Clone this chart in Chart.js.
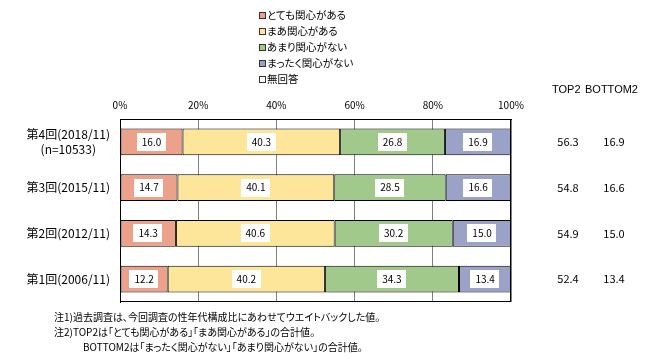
<!DOCTYPE html>
<html lang="ja">
<head>
<meta charset="utf-8">
<script src="https://cdn.jsdelivr.net/npm/chart.js@4/dist/chart.umd.min.js"></script>
<style>
  body { margin: 0; background: #fff; }
  #wrap { position: relative; width: 657px; height: 362px; font-family: "Noto Sans CJK JP", sans-serif; color: #000; }
  #chart { position: absolute; left: 0; top: 0; }
  #legend { position: absolute; left: 259px; top: 7px; font-size: 10.5px; font-feature-settings: "palt"; }
  #legend div { height: 16px; line-height: 16px; white-space: nowrap; }
  #legend span { display: inline-block; width: 5px; height: 5px; border: 1px solid #333; margin-right: 1px; vertical-align: 0px; }
  .head { position: absolute; top: 83px; font-size: 11px; font-family: "Liberation Sans", sans-serif; }
  #notes { position: absolute; left: 54px; top: 309px; font-size: 10px; line-height: 15px; font-feature-settings: "palt"; white-space: nowrap; }
</style>
</head>
<body>
<div id="wrap">
  <canvas id="chart" width="657" height="362"></canvas>
  <div id="legend"></div>
  <div class="head" style="left:552px">TOP2</div>
  <div class="head" style="left:585px">BOTTOM2</div>
  <div id="notes">
    <div>注1)過去調査は、今回調査の性年代構成比にあわせてウエイトバックした値。</div>
    <div>注2)TOP2は「とても関心がある」「まあ関心がある」の合計値。</div>
    <div style="padding-left:29px">BOTTOM2は「まったく関心がない」「あまり関心がない」の合計値。</div>
  </div>
</div>
<script>
const rounds = [["第4回(2018/11)", "(n=10533)"], "第3回(2015/11)", "第2回(2012/11)", "第1回(2006/11)"];
const seriesNames = ["とても関心がある", "まあ関心がある", "あまり関心がない", "まったく関心がない", "無回答"];
const veryInterested = [16.0, 14.7, 14.3, 12.2];
const somewhatInterested = [40.3, 40.1, 40.6, 40.2];
const notVeryInterested = [26.8, 28.5, 30.2, 34.3];
const notInterested = [16.9, 16.6, 15.0, 13.4];
const noAnswer = [0.0, 0.1, 0.0, 0.0];
const top2 = [56.3, 54.8, 54.9, 52.4];
const bottom2 = [16.9, 16.6, 15.0, 13.4];
const xTicks = [0, 20, 40, 60, 80, 100];

const colors = ["#EBA18A", "#FDE699", "#A0C98B", "#9AA2C8", "#FFFFFF"];
const values = [veryInterested, somewhatInterested, notVeryInterested, notInterested, noAnswer];

// legend (vertical list like the original)
const legendElem = document.getElementById("legend");
seriesNames.forEach((name, i) => {
  const row = document.createElement("div");
  const box = document.createElement("span");
  box.style.background = colors[i];
  row.appendChild(box);
  row.appendChild(document.createTextNode(name));
  legendElem.appendChild(row);
});

const font = "'Noto Sans CJK JP', sans-serif";

// white boxes with the value inside each segment, plus TOP2 / BOTTOM2 column
const valueLabels = {
  id: "valueLabels",
  afterDatasetsDraw(chart) {
    const ctx = chart.ctx;
    const area = chart.chartArea;
    ctx.save();
    ctx.strokeStyle = "#000";
    ctx.lineWidth = 1;
    ctx.strokeRect(area.left + 0.5, area.top + 0.5, area.right - area.left - 1, area.bottom - area.top - 1);
    ctx.font = "10px " + font;
    ctx.textAlign = "center";
    ctx.textBaseline = "middle";
    for (let d = 0; d < 4; d++) {
      chart.getDatasetMeta(d).data.forEach((bar, i) => {
        const cx = (bar.x + bar.base) / 2;
        const txt = values[d][i].toFixed(1);
        const w = ctx.measureText(txt).width + 10;
        ctx.fillStyle = "#fff";
        ctx.fillRect(Math.round(cx - w / 2), Math.round(bar.y - 9), Math.round(w), 18);
        ctx.fillStyle = "#000";
        ctx.fillText(txt, cx, bar.y);
      });
    }
    ctx.font = "11px " + font;
    const yScale = chart.scales.y;
    rounds.forEach((r, i) => {
      const y = yScale.getPixelForValue(i);
      ctx.fillText(top2[i].toFixed(1), 568, y);
      ctx.fillText(bottom2[i].toFixed(1), 614, y);
    });
    ctx.restore();
  }
};

new Chart(document.getElementById("chart").getContext("2d"), {
  type: "bar",
  data: {
    labels: rounds,
    datasets: seriesNames.map((name, i) => ({
      label: name,
      data: values[i],
      backgroundColor: colors[i],
      borderColor: "#000",
      borderWidth: 1,
      borderSkipped: false,
      categoryPercentage: 1,
      barPercentage: 0.59,
    })),
  },
  options: {
    indexAxis: "y",
    responsive: false,
    animation: false,
    layout: { padding: { top: 99, right: 146, bottom: 60, left: 0 } },
    plugins: { legend: { display: false }, tooltip: { enabled: false } },
    scales: {
      x: {
        position: "top",
        stacked: true,
        min: 0,
        max: 100,
        afterBuildTicks: (scale) => { scale.ticks = xTicks.map((v) => ({ value: v })); },
        afterFit: (scale) => { scale.height = 20; },
        ticks: { callback: (v) => v + "%", color: "#000", font: { size: 10, family: font }, padding: 8 },
        grid: { color: "#808080", drawTicks: false },
        border: { color: "#000" },
      },
      y: {
        stacked: true,
        afterFit: (scale) => { scale.width = 120; },
        ticks: { color: "#000", font: { size: 12, family: font }, padding: 10, crossAlign: "center" },
        grid: { display: false, drawTicks: false },
        border: { color: "#000" },
      },
    },
  },
  plugins: [valueLabels],
});
</script>
</body>
</html>
